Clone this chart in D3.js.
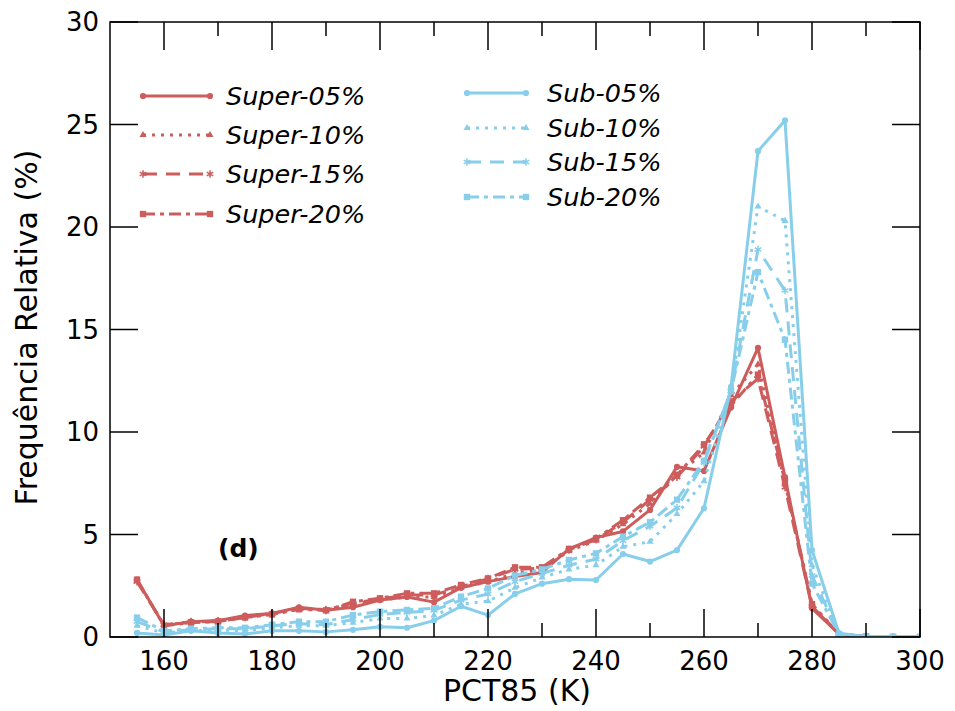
<!DOCTYPE html>
<html>
<head>
<meta charset="utf-8">
<script src="https://cdn.jsdelivr.net/npm/d3@7"></script>
<style>
  html, body { margin: 0; padding: 0; background: #fff; }
  svg { display: block; }
  text { font-family: "DejaVu Sans", sans-serif; fill: #000; }
</style>
</head>
<body>
<svg id="chart" width="955" height="711"></svg>
<script>
// PCT85 bins (K)
const pct85 = [155, 160, 165, 170, 175, 180, 185, 190, 195, 200,
               205, 210, 215, 220, 225, 230, 235, 240, 245, 250,
               255, 260, 265, 270, 275, 280, 285, 290, 295, 300];

// Relative frequency (%) per class
const super05 = [2.8, 0.55, 0.75, 0.8, 1.05, 1.15, 1.45, 1.3, 1.45, 1.8,
                 1.95, 1.7, 2.4, 2.7, 2.95, 3.15, 4.3, 4.85, 5.15, 6.2,
                 8.3, 8.1, 11.2, 14.1, 7.8, 1.4, 0.15, 0.02, 0.01, 0.0];
const super10 = [2.75, 0.6, 0.7, 0.8, 1.0, 1.15, 1.35, 1.35, 1.6, 1.8,
                 1.95, 1.95, 2.4, 2.7, 3.1, 3.3, 4.2, 4.7, 5.5, 6.5,
                 7.9, 9.0, 11.8, 13.3, 7.5, 1.6, 0.15, 0.02, 0.0, 0.0];
const super15 = [2.7, 0.6, 0.75, 0.75, 0.95, 1.15, 1.4, 1.3, 1.65, 1.85,
                 2.05, 2.05, 2.45, 2.85, 3.3, 3.35, 4.25, 4.75, 5.6, 6.7,
                 7.8, 9.3, 11.5, 12.6, 7.3, 1.5, 0.12, 0.02, 0.0, 0.0];
const super20 = [2.8, 0.55, 0.7, 0.75, 0.95, 1.1, 1.35, 1.3, 1.72, 1.89,
                 2.13, 2.13, 2.54, 2.86, 3.4, 3.4, 4.3, 4.8, 5.7, 6.8,
                 7.9, 9.4, 11.3, 12.8, 7.6, 1.6, 0.12, 0.02, 0.0, 0.0];
const sub05 = [0.2, 0.1, 0.3, 0.2, 0.15, 0.3, 0.3, 0.25, 0.35, 0.5,
               0.45, 0.8, 1.5, 1.07, 2.1, 2.6, 2.82, 2.78, 4.05, 3.68,
               4.24, 6.28, 12.2, 23.7, 25.2, 4.24, 0.18, 0.03, 0.02, 0.01];
const sub10 = [0.55, 0.2, 0.3, 0.35, 0.3, 0.45, 0.55, 0.55, 0.7, 0.9,
               0.9, 1.05, 1.6, 1.75, 2.4, 2.9, 3.3, 3.5, 4.4, 4.65,
               6.0, 7.6, 12.0, 21.0, 20.3, 3.5, 0.15, 0.02, 0.01, 0.0];
const sub15 = [0.75, 0.25, 0.35, 0.4, 0.4, 0.55, 0.65, 0.6, 0.85, 1.1,
               1.2, 1.3, 1.8, 2.1, 2.7, 3.1, 3.5, 3.8, 4.7, 5.4,
               6.3, 8.5, 12.0, 18.9, 16.9, 3.0, 0.15, 0.02, 0.01, 0.0];
const sub20 = [0.95, 0.3, 0.4, 0.45, 0.45, 0.6, 0.75, 0.75, 1.07, 1.24,
               1.32, 1.4, 1.97, 2.37, 3.0, 3.3, 3.76, 4.08, 4.9, 5.6,
               6.7, 8.6, 12.0, 17.8, 14.5, 2.6, 0.15, 0.02, 0.01, 0.0];

const seriesNames = ["Super-05%", "Super-10%", "Super-15%", "Super-20%",
                     "Sub-05%", "Sub-10%", "Sub-15%", "Sub-20%"];
const seriesValues = [super05, super10, super15, super20, sub05, sub10, sub15, sub20];

const xTicksMajor = [160, 180, 200, 220, 240, 260, 280, 300];
const xTicksMinor = [170, 190, 210, 230, 250, 270, 290];
const yTicks = [0, 5, 10, 15, 20, 25, 30];

const xTitle = "PCT85 (K)";
const yTitle = "Frequência Relativa (%)";
const panelTag = "(d)";

// Styling per series
const red = "#cd5c5c", blue = "#87ceeb";
const styles = [
  { color: red,  dash: null,          marker: "circle" },
  { color: red,  dash: "3,6",         marker: "triangle" },
  { color: red,  dash: "14,9",        marker: "asterisk" },
  { color: red,  dash: "12,5,4,5",    marker: "square" },
  { color: blue, dash: null,          marker: "circle" },
  { color: blue, dash: "3,6",         marker: "triangle" },
  { color: blue, dash: "14,9",        marker: "asterisk" },
  { color: blue, dash: "12,5,4,5",    marker: "square" }
];

const svg = d3.select("#chart");
const L = 110, R = 920, T = 22, B = 637;

const x = d3.scaleLinear().domain([150, 300]).range([L, R]);
const y = d3.scaleLinear().domain([0, 30]).range([B, T]);

svg.append("defs").append("clipPath").attr("id", "plotclip")
  .append("rect").attr("x", L).attr("y", T - 2).attr("width", R - L).attr("height", B - T + 2);

const markerSymbols = {
  circle: d3.symbol().type(d3.symbolCircle).size(30),
  triangle: d3.symbol().type(d3.symbolTriangle).size(22),
  asterisk: d3.symbol().type(d3.symbolAsterisk).size(40),
  square: d3.symbol().type(d3.symbolSquare).size(40)
};

function drawMarker(g, kind, color, px, py) {
  const p = g.append("path")
    .attr("d", markerSymbols[kind]())
    .attr("transform", `translate(${px},${py})`);
  if (kind === "asterisk") {
    p.attr("fill", "none").attr("stroke", color).attr("stroke-width", 1.5);
  } else {
    p.attr("fill", color).attr("stroke", "none");
  }
}

// Series lines
const plot = svg.append("g").attr("clip-path", "url(#plotclip)");
const line = d3.line().x((d, i) => x(pct85[i])).y(d => y(d));

seriesValues.forEach((vals, si) => {
  const st = styles[si];
  const g = plot.append("g");
  g.append("path")
    .datum(vals)
    .attr("d", line)
    .attr("fill", "none")
    .attr("stroke", st.color)
    .attr("stroke-width", 3)
    .attr("stroke-linejoin", "round")
    .attr("stroke-dasharray", st.dash);
  vals.forEach((v, i) => drawMarker(g, st.marker, st.color, x(pct85[i]), y(v)));
});

// Frame
svg.append("rect").attr("x", L).attr("y", T).attr("width", R - L).attr("height", B - T)
  .attr("fill", "none").attr("stroke", "#000").attr("stroke-width", 1.5);

// Inward ticks: bottom/top (major + minor), left/right (major)
const majLen = 28, minLen = 14;
const axisG = svg.append("g").attr("stroke", "#000").attr("stroke-width", 1.5);
xTicksMajor.forEach(t => {
  axisG.append("line").attr("x1", x(t)).attr("x2", x(t)).attr("y1", B).attr("y2", B - majLen);
  axisG.append("line").attr("x1", x(t)).attr("x2", x(t)).attr("y1", T).attr("y2", T + majLen);
});
xTicksMinor.forEach(t => {
  axisG.append("line").attr("x1", x(t)).attr("x2", x(t)).attr("y1", B).attr("y2", B - minLen);
  axisG.append("line").attr("x1", x(t)).attr("x2", x(t)).attr("y1", T).attr("y2", T + minLen);
});
yTicks.forEach(t => {
  axisG.append("line").attr("x1", L).attr("x2", L + majLen).attr("y1", y(t)).attr("y2", y(t));
  axisG.append("line").attr("x1", R).attr("x2", R - majLen).attr("y1", y(t)).attr("y2", y(t));
});

// Tick labels
const tickFont = 26;
xTicksMajor.forEach(t => {
  svg.append("text").attr("x", x(t)).attr("y", B + 33)
    .attr("text-anchor", "middle").attr("font-size", tickFont).text(t);
});
yTicks.forEach(t => {
  svg.append("text").attr("x", L - 11).attr("y", y(t)).attr("dy", "0.36em")
    .attr("text-anchor", "end").attr("font-size", tickFont).text(t);
});

// Axis titles
svg.append("text").attr("x", (L + R) / 2 + 2).attr("y", 701)
  .attr("text-anchor", "middle").attr("font-size", 30).text(xTitle);
svg.append("text")
  .attr("transform", `translate(37, ${(T + B) / 2 - 2}) rotate(-90)`)
  .attr("text-anchor", "middle").attr("font-size", 30).text(yTitle);

// Panel tag
svg.append("text").attr("x", 218).attr("y", 557)
  .attr("font-size", 25).attr("font-weight", "bold").text(panelTag);

// Legend: two columns of four entries
const legendCols = [
  { x0: 143, x1: 210, tx: 226, rows: [96, 135, 174, 214] },
  { x0: 467, x1: 526, tx: 547, rows: [93, 128, 162, 197] }
];
seriesNames.forEach((name, si) => {
  const col = legendCols[Math.floor(si / 4)];
  const ry = col.rows[si % 4];
  const st = styles[si];
  const g = svg.append("g");
  g.append("line").attr("x1", col.x0).attr("x2", col.x1).attr("y1", ry).attr("y2", ry)
    .attr("stroke", st.color).attr("stroke-width", 3).attr("stroke-dasharray", st.dash);
  drawMarker(g, st.marker, st.color, col.x0, ry);
  drawMarker(g, st.marker, st.color, col.x1, ry);
  g.append("text").attr("x", col.tx).attr("y", ry).attr("dy", "0.36em")
    .attr("font-size", 25.5).attr("font-style", "italic").text(name);
});
</script>
</body>
</html>
